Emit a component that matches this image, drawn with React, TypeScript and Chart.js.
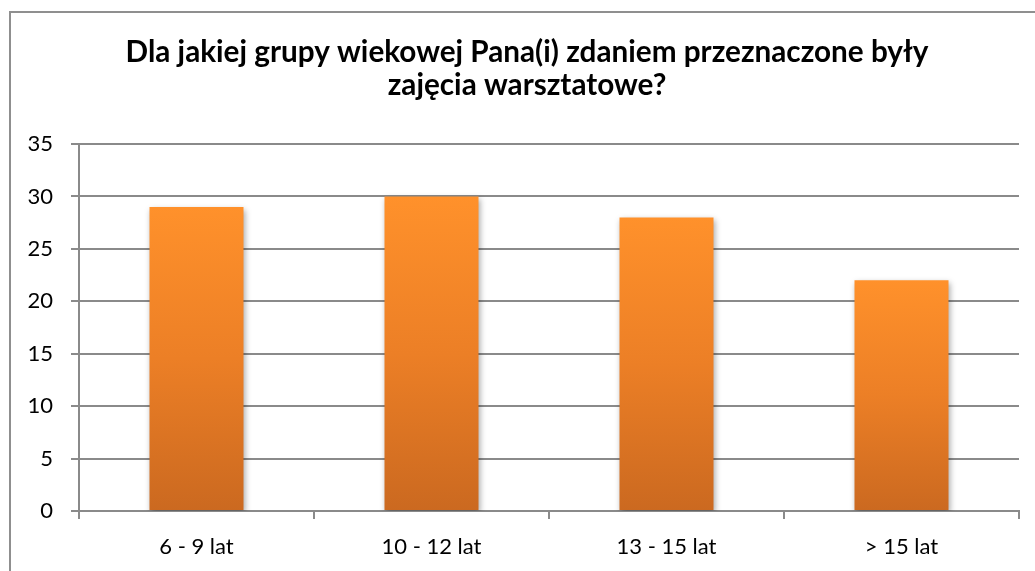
import React, { useEffect, useRef } from "react";
import { Chart, registerables } from "chart.js";

Chart.register(...registerables);

const categories = ["6 - 9 lat", "10 - 12 lat", "13 - 15 lat", "> 15 lat"];
const values = [29, 30, 28, 22];
const titleLines = [
  "Dla jakiej grupy wiekowej Pana(i) zdaniem przeznaczone były",
  "zajęcia warsztatowe?",
];
const yMin = 0;
const yMax = 35;
const yStep = 5;

const FONT = "Lato, 'Open Sans', sans-serif";
const GRID = "#8a8a8a";

export default function App() {
  const ref = useRef<HTMLCanvasElement | null>(null);

  useEffect(() => {
    if (!ref.current) return;

    const titlePlugin = {
      id: "customTitle",
      afterDraw(chart: any) {
        const ctx = chart.ctx;
        ctx.save();
        ctx.font = `bold 29.7px ${FONT}`;
        ctx.fillStyle = "#000";
        ctx.textAlign = "center";
        ctx.textBaseline = "alphabetic";
        ctx.fillText(titleLines[0], 527, 62);
        ctx.fillText(titleLines[1], 527, 95);
        ctx.restore();
      },
    };

    const shadowPlugin = {
      id: "barShadow",
      beforeDatasetsDraw(chart: any) {
        const ctx = chart.ctx;
        ctx.save();
        ctx.shadowColor = "rgba(0,0,0,0.35)";
        ctx.shadowBlur = 6;
        ctx.shadowOffsetX = 1;
        ctx.shadowOffsetY = 3;
      },
      afterDatasetsDraw(chart: any) {
        chart.ctx.restore();
      },
    };

    const chart = new Chart(ref.current, {
      type: "bar",
      data: {
        labels: categories,
        datasets: [
          {
            data: values,
            backgroundColor: (c: any) => {
              const chart = c.chart;
              const ys = chart.scales?.y;
              if (!ys || !c.parsed) return "#EC7F26";
              const top = ys.getPixelForValue(c.parsed.y);
              const bottom = ys.getPixelForValue(0);
              if (!isFinite(top) || !isFinite(bottom) || top === bottom) return "#EC7F26";
              const g = chart.ctx.createLinearGradient(0, top, 0, bottom);
              g.addColorStop(0, "#FF912B");
              g.addColorStop(0.5, "#EC7F26");
              g.addColorStop(1, "#CB6920");
              return g;
            },
            borderWidth: 0,
            categoryPercentage: 1,
            barPercentage: 0.4,
          },
        ],
      },
      options: {
        responsive: false,
        animation: false,
        layout: { padding: { top: 144, right: 16, left: 0, bottom: 0 } },
        plugins: {
          legend: { display: false },
          title: { display: false },
          tooltip: { enabled: false },
        },
        scales: {
          x: {
            offset: true,
            grid: {
              display: true,
              drawOnChartArea: false,
              drawTicks: true,
              tickLength: 8,
              color: GRID,
              lineWidth: 2,
              offset: true,
            },
            border: { display: true, color: GRID, width: 2 },
            ticks: {
              color: "#000",
              font: { family: FONT, size: 22 },
              padding: 15,
              maxRotation: 0,
            },
            afterFit: (s: any) => {
              s.height = 60;
            },
          },
          y: {
            min: yMin,
            max: yMax,
            grid: {
              color: GRID,
              tickLength: 8,
              drawTicks: true,
              lineWidth: 2,
            },
            border: { display: true, color: GRID, width: 2 },
            ticks: {
              stepSize: yStep,
              color: "#000",
              font: { family: FONT, size: 22 },
              padding: 18,
            },
            afterFit: (s: any) => {
              s.width = 79;
            },
          },
        },
      },
      plugins: [titlePlugin, shadowPlugin],
    });

    return () => chart.destroy();
  }, []);

  return (
    <div
      style={{
        position: "fixed",
        left: 0,
        top: 0,
        width: 1035,
        height: 571,
        overflow: "hidden",
        background: "#fff",
      }}
    >
      <div
        style={{
          position: "absolute",
          left: 9,
          top: 11,
          width: 1100,
          height: 700,
          border: "2px solid #8f8f8f",
          boxSizing: "border-box",
        }}
      />
      <canvas
        ref={ref}
        width={1035}
        height={571}
        style={{ position: "absolute", left: 0, top: 0, display: "block" }}
      />
    </div>
  );
}
